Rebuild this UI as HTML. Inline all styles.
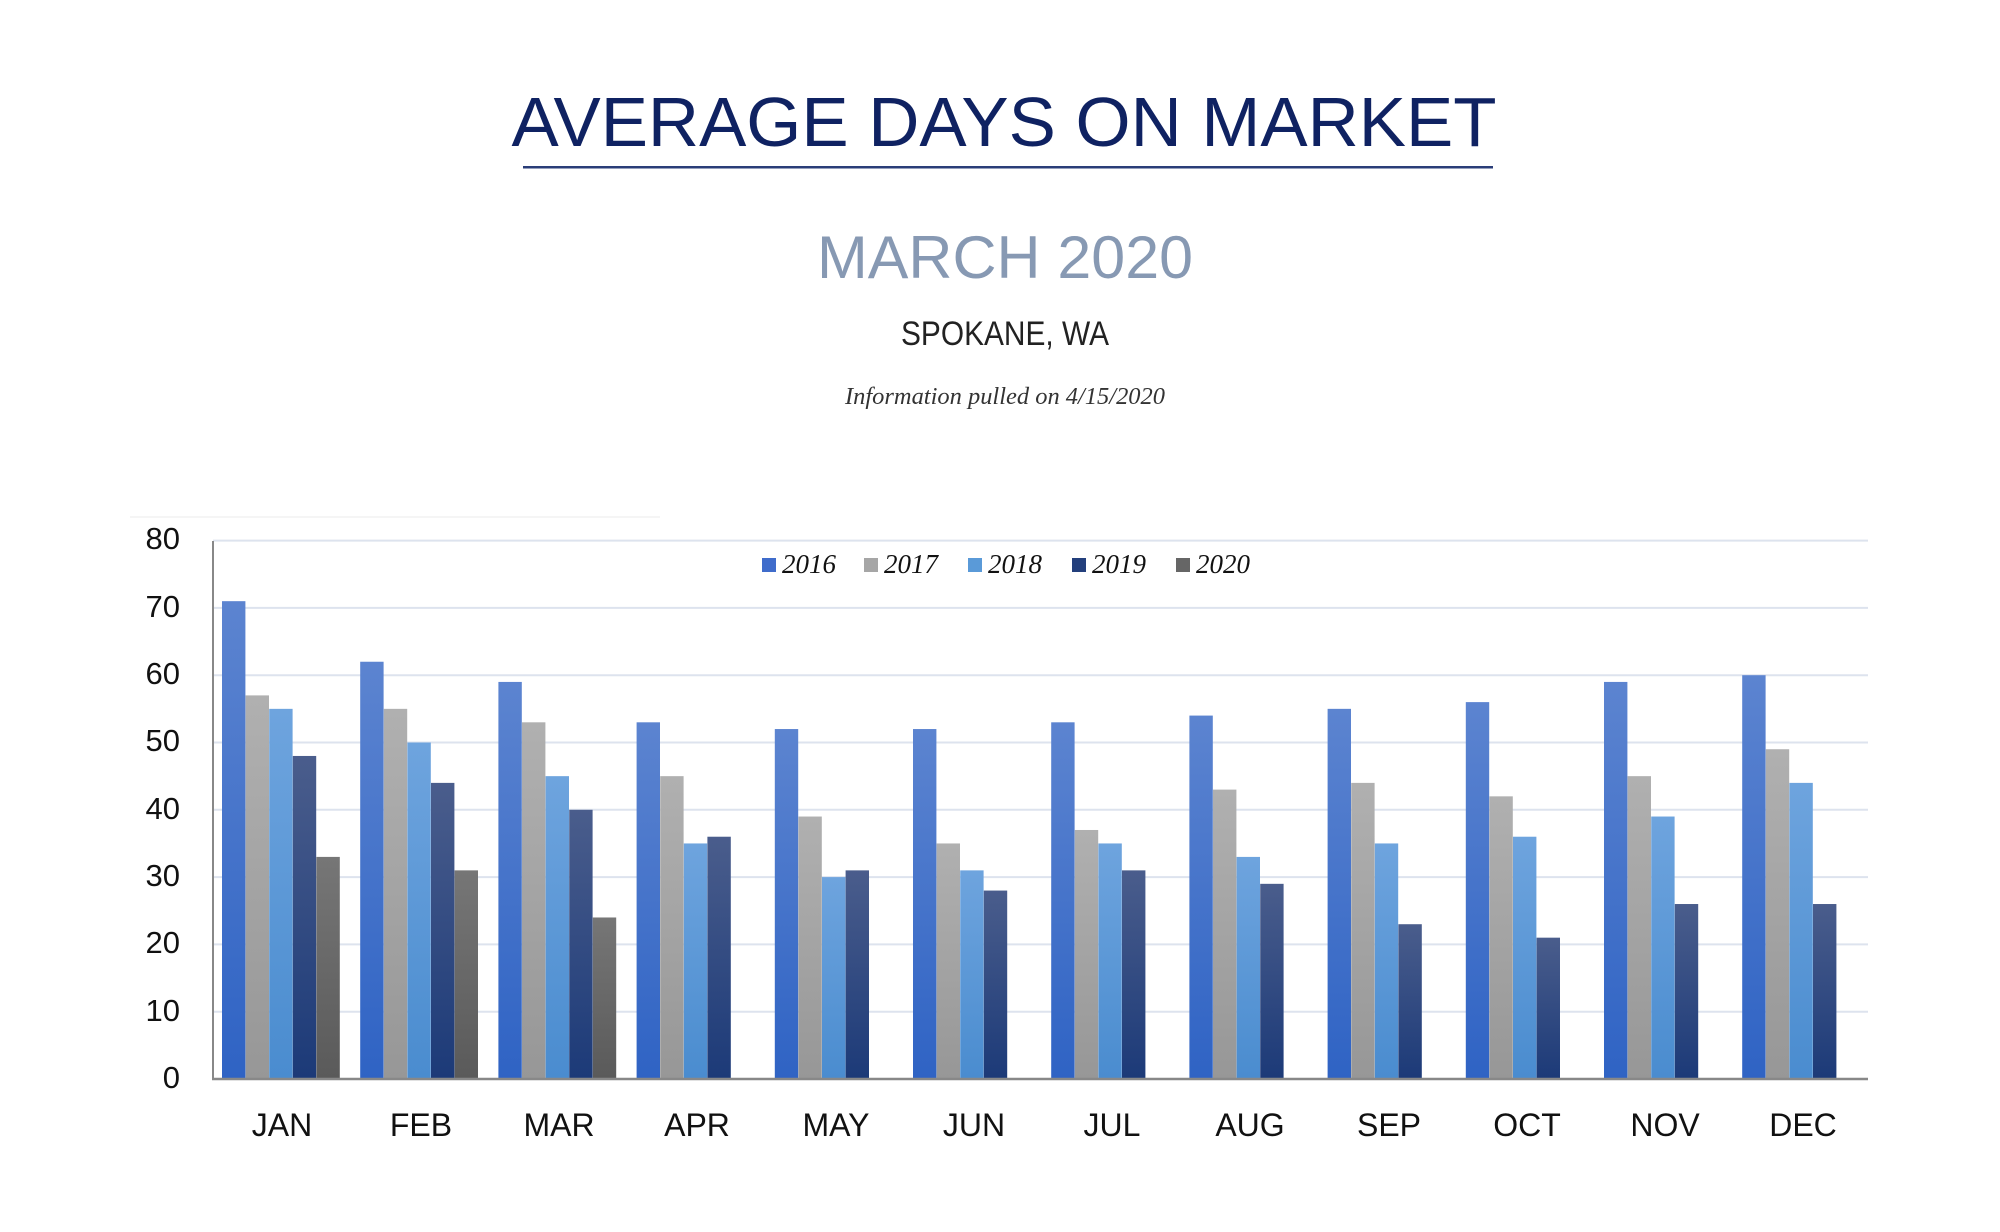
<!DOCTYPE html>
<html><head><meta charset="utf-8"><style>
html,body{margin:0;padding:0;background:#fff;}
svg{display:block;}
</style></head><body>
<svg width="2000" height="1232" viewBox="0 0 2000 1232" xmlns="http://www.w3.org/2000/svg">
<defs>
<linearGradient id="g16" x1="0" y1="0" x2="0" y2="1"><stop offset="0" stop-color="#5c84d0"/><stop offset="1" stop-color="#2f63c4"/></linearGradient>
<linearGradient id="g17" x1="0" y1="0" x2="0" y2="1"><stop offset="0" stop-color="#b0b0b0"/><stop offset="1" stop-color="#979797"/></linearGradient>
<linearGradient id="g18" x1="0" y1="0" x2="0" y2="1"><stop offset="0" stop-color="#6ea4de"/><stop offset="1" stop-color="#4a8ccf"/></linearGradient>
<linearGradient id="g19" x1="0" y1="0" x2="0" y2="1"><stop offset="0" stop-color="#4a5d8c"/><stop offset="1" stop-color="#1c3a78"/></linearGradient>
<linearGradient id="g20" x1="0" y1="0" x2="0" y2="1"><stop offset="0" stop-color="#767676"/><stop offset="1" stop-color="#5a5a5a"/></linearGradient>
</defs>
<text x="1004" y="146" text-anchor="middle" font-family="Liberation Sans, sans-serif" font-size="70" fill="#0f2262" textLength="985" lengthAdjust="spacingAndGlyphs">AVERAGE DAYS ON MARKET</text>
<rect x="523" y="166" width="970" height="2.5" fill="#2a3d78"/>
<text x="1005" y="278" text-anchor="middle" font-family="Liberation Sans, sans-serif" font-size="60" fill="#8799b3" textLength="376" lengthAdjust="spacingAndGlyphs">MARCH 2020</text>
<text x="1005" y="345" text-anchor="middle" font-family="Liberation Sans, sans-serif" font-size="34" fill="#222" textLength="208" lengthAdjust="spacingAndGlyphs">SPOKANE, WA</text>
<text x="1005" y="404" text-anchor="middle" font-family="Liberation Serif, serif" font-style="italic" font-size="24" fill="#333" textLength="320" lengthAdjust="spacingAndGlyphs">Information pulled on 4/15/2020</text>
<line x1="130" y1="517" x2="660" y2="517" stroke="#f2f2f2" stroke-width="1.5"/>
<g id="grid" stroke="#dde3ee" stroke-width="2"></g>
<g id="bars"></g>
<line x1="213" y1="541" x2="213" y2="1079" stroke="#888" stroke-width="2"/>
<line x1="212" y1="1079" x2="1868" y2="1079" stroke="#888" stroke-width="2.5"/>
<g font-family="Liberation Sans, sans-serif" font-size="31" fill="#111" text-anchor="end">
<text x="180" y="549">80</text><text x="180" y="617">70</text><text x="180" y="684">60</text><text x="180" y="751">50</text><text x="180" y="819">40</text><text x="180" y="886">30</text><text x="180" y="953">20</text><text x="180" y="1021">10</text><text x="180" y="1088">0</text>
</g>
<g font-family="Liberation Sans, sans-serif" font-size="32" fill="#111" text-anchor="middle">
<text x="282" y="1136">JAN</text><text x="421" y="1136">FEB</text><text x="559" y="1136">MAR</text><text x="697" y="1136">APR</text><text x="836" y="1136">MAY</text><text x="974" y="1136">JUN</text><text x="1112" y="1136">JUL</text><text x="1250" y="1136">AUG</text><text x="1389" y="1136">SEP</text><text x="1527" y="1136">OCT</text><text x="1665" y="1136">NOV</text><text x="1803" y="1136">DEC</text>
</g>
<g font-family="Liberation Serif, serif" font-style="italic" font-size="27" fill="#111">
<rect x="762" y="558" width="14" height="14" fill="#3f6ccb"/><text x="782" y="573">2016</text>
<rect x="864" y="558" width="14" height="14" fill="#a6a6a6"/><text x="884" y="573">2017</text>
<rect x="968" y="558" width="14" height="14" fill="#5a9ad8"/><text x="988" y="573">2018</text>
<rect x="1072" y="558" width="14" height="14" fill="#233f7c"/><text x="1092" y="573">2019</text>
<rect x="1176" y="558" width="14" height="14" fill="#666"/><text x="1196" y="573">2020</text>
</g>
</svg>
<script>
var d=[[71,57,55,48,33],[62,55,50,44,31],[59,53,45,40,24],[53,45,35,36],[52,39,30,31],[52,35,31,28],[53,37,35,31],[54,43,33,29],[55,44,35,23],[56,42,36,21],[59,45,39,26],[60,49,44,26]];
var ns="http://www.w3.org/2000/svg",g=document.getElementById('bars'),gr=document.getElementById('grid');
for(var k=1;k<=8;k++){var l=document.createElementNS(ns,'line');var y=1079-k*67.3;l.setAttribute('x1',213);l.setAttribute('x2',1868);l.setAttribute('y1',y);l.setAttribute('y2',y);gr.appendChild(l);}
var f=['g16','g17','g18','g19','g20'];
d.forEach(function(v,i){v.forEach(function(val,j){var r=document.createElementNS(ns,'rect');var h=val*6.73;r.setAttribute('x',222+i*138.2+j*23.6);r.setAttribute('y',1079-h);r.setAttribute('width',23.4);r.setAttribute('height',h);r.setAttribute('fill','url(#'+f[j]+')');g.appendChild(r);});});
</script>
</body></html>
